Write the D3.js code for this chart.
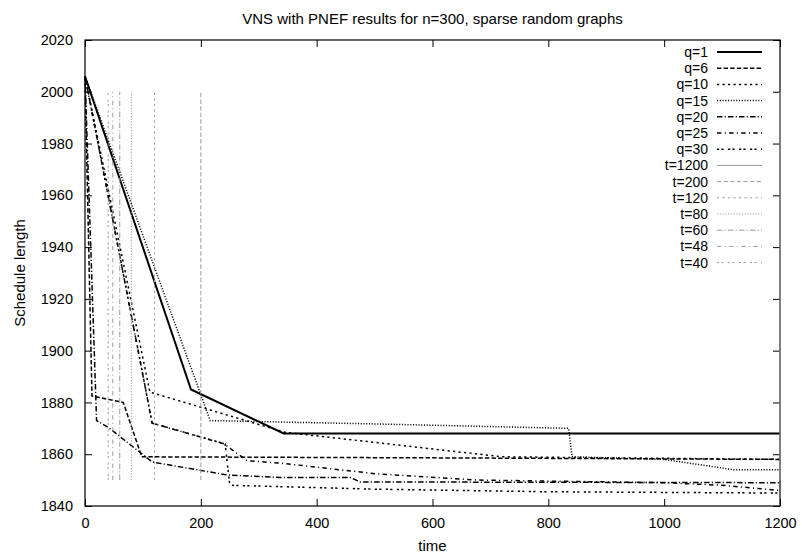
<!DOCTYPE html>
<html><head><meta charset="utf-8">
<script src="https://cdn.jsdelivr.net/npm/d3@7"></script>
<style>body{margin:0;background:#fff} svg{display:block} text{font-family:"Liberation Sans",Arial,Helvetica,sans-serif;fill:#000}</style>
</head><body><svg id="c" width="802" height="557"></svg>
<script>
// ---- data ----
const xTicks = [0, 200, 400, 600, 800, 1000, 1200];
const yTicks = [1840, 1860, 1880, 1900, 1920, 1940, 1960, 1980, 2000, 2020];
const qLabels = ["q=1", "q=6", "q=10", "q=15", "q=20", "q=25", "q=30"];
const q1  = [[0,2006],[183,1885],[343,1868],[1200,1868]];
const q6  = [[0,2006],[12,1882.5],[66,1880],[98,1859],[600,1858.6],[1200,1858]];
const q10 = [[0,2006],[112,1884],[345,1868.5],[720,1859],[1200,1858]];
const q15 = [[0,2006],[199,1883.6],[216,1873],[500,1871.7],[835,1870],[841,1859],[1000,1858],[1120,1854],[1200,1854]];
const q20 = [[0,2006],[20,1873],[40,1870.4],[116,1857],[245,1852],[337,1851],[458,1851],[475,1849.3],[1200,1849]];
const q25 = [[0,2006],[116,1872],[240,1864],[280,1857.5],[340,1856.5],[500,1852.5],[680,1850],[1000,1849],[1100,1848],[1200,1846]];
const q30 = [[0,2006],[116,1872],[242,1864],[250,1848],[500,1846.5],[800,1845.5],[1200,1845]];
const tLabels = ["t=1200", "t=200", "t=120", "t=80", "t=60", "t=48", "t=40"];
const tTimes  = [1200, 200, 120, 80, 60, 48, 40];
const tRange  = [1850, 2000];

// ---- layout ----
const M = {left: 85, right: 780, top: 40, bottom: 506};
const x = d3.scaleLinear().domain([0, 1200]).range([M.left, M.right]);
const y = d3.scaleLinear().domain([1840, 2020]).range([M.bottom, M.top]);
const svg = d3.select("#c");
const FONT = '"Liberation Sans",Arial,sans-serif';
const FS = 15;

const dashes = ["", "4.4,2.2", "2.2,3.3", "1.1,1.65", "5.5,2.2,1.1,2.2", "4.4,3.3,1.1,3.3", "2.2,2.2,2.2,4.4"];
const qSeries = [q1, q6, q10, q15, q20, q25, q30];
const tSeries = tTimes.map(t => [[t, tRange[0]], [t, tRange[1]]]);

// axes (inward ticks, mirrored)
const tk = 7;
const fmt = d3.format("d");
const ax = svg.append("g");
ax.append("g").attr("transform", `translate(0,${M.bottom})`)
  .call(d3.axisBottom(x).tickValues(xTicks).tickFormat(fmt).tickSizeInner(-tk).tickSizeOuter(0).tickPadding(12));
ax.append("g").attr("transform", `translate(0,${M.top})`)
  .call(d3.axisTop(x).tickValues(xTicks).tickSizeInner(-tk).tickSizeOuter(0).tickFormat(""));
ax.append("g").attr("transform", `translate(${M.left},0)`)
  .call(d3.axisLeft(y).tickValues(yTicks).tickFormat(fmt).tickSizeInner(-tk).tickSizeOuter(0).tickPadding(12));
ax.append("g").attr("transform", `translate(${M.right},0)`)
  .call(d3.axisRight(y).tickValues(yTicks).tickSizeInner(-tk).tickSizeOuter(0).tickFormat(""));
ax.selectAll(".domain").remove();
ax.selectAll("line").attr("stroke", "#000").attr("stroke-width", 1);
ax.selectAll("text").attr("font-size", 14.5).attr("font-family", FONT).attr("fill", "#000");

// frame
svg.append("rect").attr("x", M.left).attr("y", M.top)
  .attr("width", M.right - M.left).attr("height", M.bottom - M.top)
  .attr("fill", "none").attr("stroke", "#000").attr("stroke-width", 1.2);

const line = d3.line().x(d => x(d[0])).y(d => y(d[1]));

const plot = svg.append("g");
qSeries.forEach((s, i) => {
  plot.append("path").attr("d", line(s)).attr("fill", "none")
    .attr("stroke", "#000").attr("stroke-width", i === 0 ? 2 : 1.5)
    .attr("stroke-dasharray", dashes[i] || null);
});
tSeries.forEach((s, i) => {
  plot.append("path").attr("d", line(s)).attr("fill", "none")
    .attr("stroke", "#9a9a9a").attr("stroke-width", 1)
    .attr("stroke-dasharray", dashes[i] || null);
});

// legend
const lg = svg.append("g");
const allLabels = qLabels.concat(tLabels);
allLabels.forEach((lab, i) => {
  const yy = 52 + i * 16.2;
  const isQ = i < qLabels.length;
  const k = isQ ? i : i - qLabels.length;
  lg.append("text").attr("x", 708).attr("y", yy).attr("dy", "0.36em")
    .attr("text-anchor", "end").attr("font-size", 14).text(lab);
  lg.append("line").attr("x1", 717).attr("x2", 762).attr("y1", yy).attr("y2", yy)
    .attr("stroke", isQ ? "#000" : "#9a9a9a")
    .attr("stroke-width", isQ ? (k === 0 ? 2 : 1.5) : 1)
    .attr("stroke-dasharray", dashes[k] || null);
});

// titles
svg.append("text").attr("x", (M.left + M.right) / 2).attr("y", 24)
  .attr("text-anchor", "middle").attr("font-size", FS)
  .text("VNS with PNEF results for n=300, sparse random graphs");
svg.append("text").attr("x", (M.left + M.right) / 2).attr("y", 551)
  .attr("text-anchor", "middle").attr("font-size", FS).text("time");
svg.append("text").attr("transform", `translate(25,${(M.top + M.bottom) / 2}) rotate(-90)`)
  .attr("text-anchor", "middle").attr("font-size", FS).text("Schedule length");
</script></body></html>
